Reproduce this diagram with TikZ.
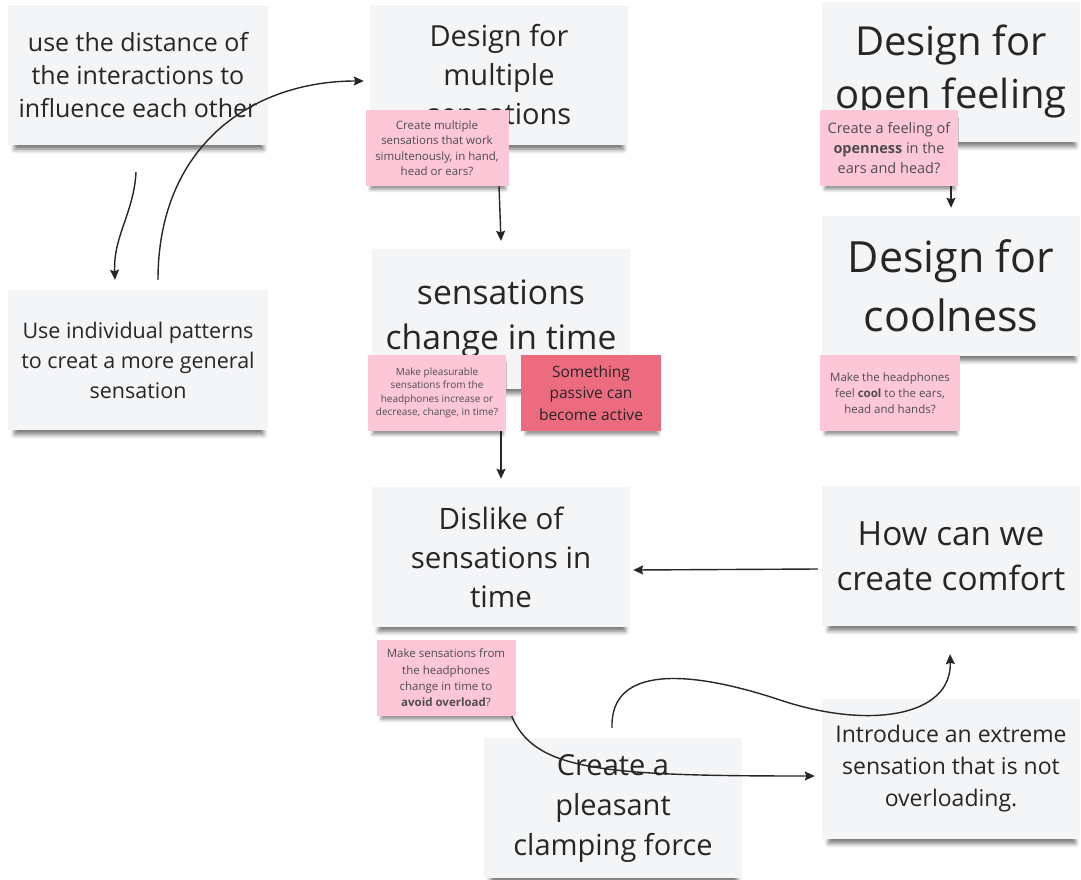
\documentclass[tikz,border=0pt]{standalone}
\usepackage{fontspec}
\setmainfont{Open Sans}
\usetikzlibrary{arrows.meta,shadows.blur}
\definecolor{card500}{HTML}{F4F5F7}
\definecolor{pink200}{HTML}{FDC7D7}
\definecolor{red400}{HTML}{EC6B7F}
\definecolor{ink}{HTML}{262626}
\definecolor{inkgray}{HTML}{4D4D4D}
\tikzstyle{card}=[rectangle, fill=card500, minimum width=258pt, minimum height=140pt, align=center, text=ink, inner sep=0pt, blur shadow={shadow xshift=1pt, shadow yshift=-8pt, shadow scale=0.96, shadow opacity=50, shadow blur radius=4pt}]
\tikzstyle{note}=[rectangle, fill=pink200, minimum width=140pt, minimum height=76pt, align=center, text=inkgray, inner sep=0pt, font=\fontsize{10}{13.5}\selectfont, blur shadow={shadow xshift=1pt, shadow yshift=-6pt, shadow scale=0.95, shadow opacity=40, shadow blur radius=3pt}]
\tikzstyle{link}=[draw=ink, line width=1.4pt, -{Stealth[length=10pt,width=9pt,inset=1.5pt]}]

\begin{document}
\begin{tikzpicture}[x=1pt, y=-1pt]
	\useasboundingbox (0,0) rectangle (1081,880);
	% cards
	\node[card, minimum width=260pt, font=\fontsize{25}{33}\selectfont] (dist) at (138,75){use the distance of\\the interactions to\\influence each other};
	\node[card, minimum width=260pt, font=\fontsize{21.5}{30}\selectfont] (patt) at (138,360){Use individual patterns\\to creat a more general\\sensation};
	\node[card, font=\fontsize{29}{39}\selectfont] (multi) at (499,75){Design for\\multiple\\sensations};
	\node[card, font=\fontsize{33.7}{45}\selectfont] (time) at (501,319){sensations\\change in time};
	\node[card, font=\fontsize{29.5}{39}\selectfont] (dislike) at (501,557){Dislike of\\sensations in\\time};
	\node[card, font=\fontsize{29}{40}\selectfont] (clamp) at (613,808){Create a\\pleasant\\clamping force};
	\node[card, font=\fontsize{23}{32}\selectfont] (extreme) at (951,769){Introduce an extreme\\sensation that is not\\overloading.};
	\node[card, font=\fontsize{33.3}{45}\selectfont] (comfort) at (951,556){How can we\\create comfort};
	\node[card, font=\fontsize{40}{53}\selectfont] (open) at (951,72){Design for\\open feeling};
	\node[card, font=\fontsize{43}{59}\selectfont] (cool) at (951,286){Design for\\coolness};
	% notes
	\node[note, minimum width=143pt, font=\fontsize{11.5}{15.5}\selectfont] (multinote) at (437,148){Create multiple\\sensations that work\\simultenously, in hand,\\head or ears?};
	\node[note, minimum width=138pt] (timenote) at (437,393){Make pleasurable\\sensations from the\\headphones increase or\\decrease, change, in time?};
	\node[note, fill=red400, text=ink, font=\fontsize{15.5}{21.5}\selectfont] (passive) at (591,393){Something\\passive can\\become active};
	\node[note, minimum width=139pt, font=\fontsize{11.5}{16.3}\selectfont] (dislikenote) at (446,678){Make sensations from\\the headphones\\change in time to\\\textbf{avoid overload}?};
	\node[note, minimum width=138pt, font=\fontsize{14.5}{20}\selectfont] (opennote) at (889,148){Create a feeling of\\\textbf{openness} in the\\ears and head?};
	\node[note, font=\fontsize{11.5}{16}\selectfont] (coolnote) at (890,393){Make the headphones\\feel \textbf{cool} to the ears,\\head and hands?};
	% connectors
	\draw[link] ([xshift=-2pt,yshift=-27pt]dist.south) .. controls +(-2,40) and +(-2,-43) .. ([xshift=-23pt,yshift=10pt]patt.north);
	\draw[link] ([xshift=20pt,yshift=10pt]patt.north) .. controls +(0,-133) and +(-113,0) .. ([xshift=-6pt,yshift=-6pt]multi.west);
	\draw[link] (multinote.south -| multi.south) -- ([yshift=8pt]time.north);
	\draw[link] (timenote.south -| time.south) -- ([yshift=8pt]dislike.north);
	\draw[link] (opennote.south -| cool.north) -- ([yshift=8pt]cool.north);
	\draw[link] ([xshift=-4pt,yshift=-13pt]comfort.west) -- ([xshift=3pt,yshift=-13pt]dislike.east);
	\draw[link] ([xshift=-4pt]dislikenote.south east) .. controls +(23,54) and +(-215,0) .. ([xshift=-7pt,yshift=-7pt]extreme.west);
	\draw[link] ([xshift=-1pt,yshift=10pt]clamp.north) .. controls +(-2,-63) and +(-90,-30) .. (780,700) .. controls +(90,30) and +(2,62) .. ([xshift=-1pt,yshift=-28pt]comfort.south);
\end{tikzpicture}
\end{document}
